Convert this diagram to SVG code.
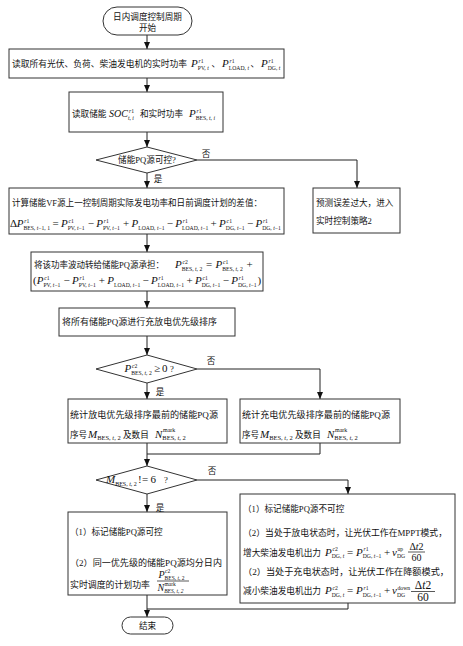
<svg xmlns="http://www.w3.org/2000/svg" width="463" height="646" viewBox="0 0 463 646">
<defs>
<marker id="ah" markerWidth="7" markerHeight="6" refX="7" refY="3" orient="auto" markerUnits="userSpaceOnUse"><path d="M0,0 L7,3 L0,6 z" fill="#111"/></marker>
</defs>
<style>
.bx{fill:#fff;stroke:#333;stroke-width:1}
.ln{fill:none;stroke:#222;stroke-width:1}
.fl{stroke:#111;stroke-width:0.7}
.t{font-family:"Liberation Serif","Noto Sans CJK SC",serif;font-size:8.6px;fill:#111}
.c{text-anchor:middle}
.m{font-family:"Liberation Serif",serif;font-style:italic;font-size:11px;fill:#111}
.r{font-style:normal}
.s{font-family:"Liberation Serif",serif;font-size:5.7px;font-style:normal;fill:#111}
.i{font-style:italic}
</style>
<rect x="0" y="0" width="463" height="646" fill="#fff"/>

<g id="connectors">
<path class="ln" d="M147,35 V49" marker-end="url(#ah)"/>
<path class="ln" d="M147,78 V92" marker-end="url(#ah)"/>
<path class="ln" d="M147,132 V147" marker-end="url(#ah)"/>
<path class="ln" d="M197,160 H357 V188" marker-end="url(#ah)"/>
<path class="ln" d="M147,173 V188" marker-end="url(#ah)"/>
<path class="ln" d="M147,234 V252" marker-end="url(#ah)"/>
<path class="ln" d="M147,291 V308" marker-end="url(#ah)"/>
<path class="ln" d="M147,336 V355" marker-end="url(#ah)"/>
<path class="ln" d="M197,369 H320 V399" marker-end="url(#ah)"/>
<path class="ln" d="M147,383 V399" marker-end="url(#ah)"/>
<path class="ln" d="M147,443 V466" marker-end="url(#ah)"/>
<path class="ln" d="M320,443 V454 H147"/>
<path class="ln" d="M197,480 H348 V494" marker-end="url(#ah)"/>
<path class="ln" d="M147,494 V512" marker-end="url(#ah)"/>
<path class="ln" d="M147,595 V617" marker-end="url(#ah)"/>
<path class="ln" d="M348,603 V609 H147"/>
<text class="t c" x="206" y="157">否</text>
<text class="t c" x="158" y="182">是</text>
<text class="t c" x="211" y="364">否</text>
<text class="t c" x="160" y="395">是</text>
<text class="t c" x="212" y="474">否</text>
<text class="t c" x="160" y="511">是</text>
</g>

<g id="start">
<rect class="bx" x="103" y="7" width="89" height="28" rx="14"/>
<text class="t c" x="147.5" y="19.5">日内调度控制周期</text>
<text class="t c" x="147.5" y="30.5">开始</text>
</g>

<g id="read_power">
<rect class="bx" x="9" y="49" width="275" height="29"/>
<text class="t" x="12" y="67" textLength="175" lengthAdjust="spacingAndGlyphs">读取所有光伏、负荷、柴油发电机的实时功率</text>
<text class="m" x="191" y="67">P<tspan class="s" dy="2.5">PV, <tspan class="i">t</tspan></tspan></text>
<text class="s" x="198.5" y="62.5"><tspan class="i">r</tspan>1</text>
<text class="t" x="211.5" y="67">、</text>
<text class="m" x="222" y="67">P<tspan class="s" dy="2.5">LOAD, <tspan class="i">t</tspan></tspan></text>
<text class="s" x="229.5" y="62.5"><tspan class="i">r</tspan>1</text>
<text class="t" x="250.5" y="67">、</text>
<text class="m" x="261" y="67">P<tspan class="s" dy="2.5">DG, <tspan class="i">t</tspan></tspan></text>
<text class="s" x="268.5" y="62.5"><tspan class="i">r</tspan>1</text>
</g>

<g id="read_soc">
<rect class="bx" x="69" y="92" width="154" height="40"/>
<text class="t" x="72" y="117">读取储能</text>
<text class="m" x="109" y="117" style="font-size:10px">SOC<tspan class="s" dy="2.5"><tspan class="i">t</tspan>, <tspan class="i">i</tspan></tspan></text>
<text class="s" x="129" y="112.5"><tspan class="i">r</tspan>1</text>
<text class="t" x="140" y="117">和实时功率</text>
<text class="m" x="189" y="117">P<tspan class="s" dy="2.5">BES, <tspan class="i">t</tspan>, <tspan class="i">i</tspan></tspan></text>
<text class="s" x="196.5" y="112.5"><tspan class="i">r</tspan>1</text>
</g>

<g id="pq_check">
<polygon class="bx" points="96,160 147,147 197,160 147,173"/>
<text class="t c" x="147" y="163">储能PQ源可控?</text>
</g>

<g id="error_big">
<rect class="bx" x="313" y="188" width="87" height="45"/>
<text class="t" x="316" y="206">预测误差过大，进入</text>
<text class="t" x="316" y="224">实时控制策略2</text>
</g>

<g id="calc_diff">
<rect class="bx" x="9" y="188" width="275" height="46"/>
<text class="t" x="12" y="206" textLength="250" lengthAdjust="spacingAndGlyphs">计算储能VF源上一控制周期实际发电功率和日前调度计划的差值：</text>
<text class="m r" x="10" y="227">Δ</text>
<text class="m" x="16.7" y="227">P<tspan class="s" dy="2.5">BES, <tspan class="i">t</tspan>−1, 1</tspan></text>
<text class="s" x="24.2" y="222.5"><tspan class="i">r</tspan>1</text>
<text class="m r" x="52.4" y="227">=</text>
<text class="m" x="60.9" y="227">P<tspan class="s" dy="2.5">PV, <tspan class="i">t</tspan>−1</tspan></text>
<text class="s" x="68.4" y="222.5"><tspan class="i">c</tspan>1</text>
<text class="m r" x="87.7" y="227">−</text>
<text class="m" x="96.2" y="227">P<tspan class="s" dy="2.5">PV, <tspan class="i">t</tspan>−1</tspan></text>
<text class="s" x="103.7" y="222.5"><tspan class="i">r</tspan>1</text>
<text class="m r" x="123" y="227">+</text>
<text class="m" x="131.5" y="227">P<tspan class="s" dy="2.5">LOAD, <tspan class="i">t</tspan>−1</tspan></text>
<text class="m r" x="166.8" y="227">−</text>
<text class="m" x="175.3" y="227">P<tspan class="s" dy="2.5">LOAD, <tspan class="i">t</tspan>−1</tspan></text>
<text class="s" x="182.8" y="222.5"><tspan class="i">r</tspan>1</text>
<text class="m r" x="210.6" y="227">+</text>
<text class="m" x="219.1" y="227">P<tspan class="s" dy="2.5">DG, <tspan class="i">t</tspan>−1</tspan></text>
<text class="s" x="226.6" y="222.5"><tspan class="i">c</tspan>1</text>
<text class="m r" x="246.9" y="227">−</text>
<text class="m" x="255.4" y="227">P<tspan class="s" dy="2.5">DG, <tspan class="i">t</tspan>−1</tspan></text>
<text class="s" x="262.9" y="222.5"><tspan class="i">r</tspan>1</text>
</g>

<g id="shift_pq">
<rect class="bx" x="31" y="252" width="232" height="39"/>
<text class="t" x="34" y="268" textLength="130" lengthAdjust="spacingAndGlyphs">将该功率波动转给储能PQ源承担：</text>
<text class="m" x="175" y="268">P<tspan class="s" dy="2.5">BES, <tspan class="i">t</tspan>, 2</tspan></text>
<text class="s" x="182.5" y="263.5"><tspan class="i">c</tspan>2</text>
<text class="m r" x="206" y="268">=</text>
<text class="m" x="215.5" y="268">P<tspan class="s" dy="2.5">BES, <tspan class="i">t</tspan>, 2</tspan></text>
<text class="s" x="223" y="263.5"><tspan class="i">c</tspan>1</text>
<text class="m r" x="246.5" y="268">+</text>
<text class="m r" x="33" y="284">(</text>
<text class="m" x="36.7" y="284">P<tspan class="s" dy="2.5">PV, <tspan class="i">t</tspan>−1</tspan></text>
<text class="s" x="44.2" y="279.5"><tspan class="i">c</tspan>1</text>
<text class="m r" x="63.5" y="284">−</text>
<text class="m" x="72" y="284">P<tspan class="s" dy="2.5">PV, <tspan class="i">t</tspan>−1</tspan></text>
<text class="s" x="79.5" y="279.5"><tspan class="i">r</tspan>1</text>
<text class="m r" x="98.8" y="284">+</text>
<text class="m" x="107.3" y="284">P<tspan class="s" dy="2.5">LOAD, <tspan class="i">t</tspan>−1</tspan></text>
<text class="m r" x="142.6" y="284">−</text>
<text class="m" x="151.1" y="284">P<tspan class="s" dy="2.5">LOAD, <tspan class="i">t</tspan>−1</tspan></text>
<text class="s" x="158.6" y="279.5"><tspan class="i">r</tspan>1</text>
<text class="m r" x="186.4" y="284">+</text>
<text class="m" x="194.9" y="284">P<tspan class="s" dy="2.5">DG, <tspan class="i">t</tspan>−1</tspan></text>
<text class="s" x="202.4" y="279.5"><tspan class="i">c</tspan>1</text>
<text class="m r" x="222.7" y="284">−</text>
<text class="m" x="231.2" y="284">P<tspan class="s" dy="2.5">DG, <tspan class="i">t</tspan>−1</tspan></text>
<text class="s" x="238.7" y="279.5"><tspan class="i">r</tspan>1</text>
<text class="m r" x="257.5" y="284">)</text>
</g>

<g id="sort">
<rect class="bx" x="59" y="308" width="176" height="28"/>
<text class="t" x="62" y="325" textLength="155" lengthAdjust="spacingAndGlyphs">将所有储能PQ源进行充放电优先级排序</text>
</g>

<g id="p_check">
<polygon class="bx" points="96,369 147,355 197,369 147,383"/>
<text class="m" x="124.5" y="372">P<tspan class="s" dy="2.5">BES, <tspan class="i">t</tspan>, 2</tspan></text>
<text class="s" x="132" y="367.5"><tspan class="i">c</tspan>2</text>
<text class="m r" x="154" y="372">≥</text>
<text class="m r" x="162" y="372">0</text>
<text class="t" x="170" y="372">?</text>
</g>

<g id="discharge_stat">
<rect class="bx" x="68" y="399" width="159" height="44"/>
<text class="t" x="70" y="417.5" textLength="148" lengthAdjust="spacingAndGlyphs">统计放电优先级排序最前的储能PQ源</text>
<text class="t" x="70" y="437.5">序号</text>
<text class="m" x="88" y="437.5">M<tspan class="s" dy="2.5" style="font-size:6.5px">BES, <tspan class="i">t</tspan>, 2</tspan></text>
<text class="t" x="123" y="437.5">及数目</text>
<text class="m" x="155" y="437.5">N<tspan class="s" dy="2.5" style="font-size:6.5px">BES, <tspan class="i">t</tspan>, 2</tspan></text>
<text class="s" x="163" y="432" style="font-size:6px">mark</text>
</g>

<g id="charge_stat">
<rect class="bx" x="240" y="399" width="160" height="44"/>
<text class="t" x="242" y="417.5" textLength="148" lengthAdjust="spacingAndGlyphs">统计充电优先级排序最前的储能PQ源</text>
<text class="t" x="242" y="437.5">序号</text>
<text class="m" x="260" y="437.5">M<tspan class="s" dy="2.5" style="font-size:6.5px">BES, <tspan class="i">t</tspan>, 2</tspan></text>
<text class="t" x="295" y="437.5">及数目</text>
<text class="m" x="327" y="437.5">N<tspan class="s" dy="2.5" style="font-size:6.5px">BES, <tspan class="i">t</tspan>, 2</tspan></text>
<text class="s" x="335" y="432" style="font-size:6px">mark</text>
</g>

<g id="m_check">
<polygon class="bx" points="96,480 147,466 197,480 147,494"/>
<text class="m" x="106" y="483">M<tspan class="s" dy="2.5" style="font-size:6px">BES, <tspan class="i">t</tspan>, 2</tspan></text>
<text class="m r" x="138" y="483">!</text>
<text class="m r" x="142" y="483">=</text>
<text class="m r" x="150.5" y="483">6</text>
<text class="t" x="164" y="483">?</text>
</g>

<g id="controllable">
<rect class="bx" x="68" y="512" width="159" height="83"/>
<text class="t" x="70" y="535">（1）标记储能PQ源可控</text>
<text class="t" x="70" y="565.5" textLength="152" lengthAdjust="spacingAndGlyphs">（2）同一优先级的储能PQ源均分日内</text>
<text class="t" x="70" y="587.5" textLength="80" lengthAdjust="spacingAndGlyphs">实时调度的计划功率</text>
<text class="m" x="158.5" y="577.5" style="font-size:10px">P<tspan class="s" dy="2" style="font-size:5.5px">BES, <tspan class="i">t</tspan>, 2</tspan></text>
<text class="s" x="165" y="573" style="font-size:5.5px"><tspan class="i">c</tspan>2</text>
<line class="fl" x1="157" y1="581" x2="189" y2="581"/>
<text class="m" x="157.5" y="590.5" style="font-size:10px">N<tspan class="s i" dy="2" style="font-size:5.5px">BES, t, 2</tspan></text>
<text class="s" x="164.5" y="585.5" style="font-size:5.5px">mark</text>
</g>

<g id="uncontrollable">
<rect class="bx" x="240" y="494" width="215" height="109"/>
<text class="t" x="243" y="512">（1）标记储能PQ源不可控</text>
<text class="t" x="243" y="536" textLength="204" lengthAdjust="spacingAndGlyphs">（2）当处于放电状态时，让光伏工作在MPPT模式，</text>
<text class="t" x="243" y="555.5" textLength="78" lengthAdjust="spacingAndGlyphs">增大柴油发电机出力</text>
<text class="m" x="325" y="555.5">P<tspan class="s" dy="2.5">DG, <tspan class="i">t</tspan></tspan></text>
<text class="s" x="332.5" y="551"><tspan class="i">c</tspan>2</text>
<text class="m r" x="347" y="555.5">=</text>
<text class="m" x="356" y="555.5">P<tspan class="s" dy="2.5">DG, <tspan class="i">t</tspan>−1</tspan></text>
<text class="s" x="363.5" y="551"><tspan class="i">r</tspan>1</text>
<text class="m r" x="384" y="555.5">+</text>
<text class="m" x="392" y="555.5">v<tspan class="s" dy="2.5">DG</tspan></text>
<text class="s" x="397.5" y="551">up</text>
<text class="m r c" x="416.5" y="549.5" style="font-size:10px">Δ<tspan class="i">t</tspan>2</text>
<line class="fl" x1="408" y1="552" x2="425" y2="552"/>
<text class="m r c" x="416.5" y="561" style="font-size:10px">60</text>
<text class="t" x="243" y="575" textLength="206" lengthAdjust="spacingAndGlyphs">（2）当处于充电状态时，让光伏工作在降额模式，</text>
<text class="t" x="243" y="594" textLength="78" lengthAdjust="spacingAndGlyphs">减小柴油发电机出力</text>
<text class="m" x="325" y="594">P<tspan class="s" dy="2.5">DG, <tspan class="i">t</tspan></tspan></text>
<text class="s" x="332.5" y="589.5"><tspan class="i">c</tspan>2</text>
<text class="m r" x="347" y="594">=</text>
<text class="m" x="356" y="594">P<tspan class="s" dy="2.5">DG, <tspan class="i">t</tspan>−1</tspan></text>
<text class="s" x="363.5" y="589.5"><tspan class="i">r</tspan>1</text>
<text class="m r" x="384" y="594">+</text>
<text class="m" x="392" y="594">v<tspan class="s" dy="2.5">DG</tspan></text>
<text class="s" x="397.5" y="589.5">down</text>
<text class="m r c" x="423" y="589" style="font-size:11.5px">Δ<tspan class="i">t</tspan>2</text>
<line class="fl" x1="411" y1="591.5" x2="435" y2="591.5"/>
<text class="m r c" x="423" y="601" style="font-size:11.5px">60</text>
</g>

<g id="end">
<rect class="bx" x="122" y="617" width="51" height="17" rx="8.5"/>
<text class="t c" x="147.5" y="629">结束</text>
</g>
</svg>
